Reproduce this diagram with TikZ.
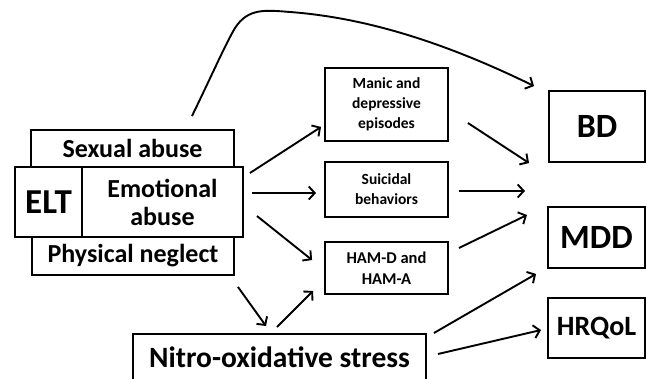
\documentclass[tikz,border=0pt]{standalone}
\usepackage{fontspec}
\setmainfont{Carlito}
\usetikzlibrary{arrows.meta,calc}
\begin{document}
\begin{tikzpicture}[x=1pt,y=-1pt,
  box/.style={draw,line width=1.9pt,inner sep=0pt,align=center,font=\bfseries},
  arr/.style={line width=1.9pt,-{Straight Barb[length=6pt,width=13pt,line width=1.9pt]}},
  fsmall/.style={font=\bfseries\fontsize{15.5}{20}\selectfont},
  fmid/.style={font=\bfseries\fontsize{26}{28}\selectfont},
  fbig/.style={font=\bfseries\fontsize{35}{38}\selectfont}]
\useasboundingbox (0,0) rectangle (647,378);
\clip (0,0) rectangle (647,378);
% left group
\node[box,fmid,minimum width=203,minimum height=37] (sex) at (132.5,148.5) {Sexual abuse};
\node[box,minimum width=228,minimum height=70] (mid) at (129,202) {};
\node[box,fbig,minimum width=67,minimum height=70] (elt) at (48.5,202) {ELT};
\node[fmid,align=center] (emo) at (162.5,202) {Emotional\\abuse};
\node[box,fmid,minimum width=202,minimum height=38] (negl) at (133,256) {Physical neglect};
% middle column
\node[box,fsmall,minimum width=123,minimum height=73] (manic) at (386.5,104.5) {Manic and\\depressive\\episodes};
\node[box,fsmall,minimum width=123,minimum height=55] (suic) at (386.5,189.5) {Suicidal\\behaviors};
\node[box,font=\bfseries\fontsize{16.5}{21}\selectfont,minimum width=123,minimum height=52] (ham) at (386.5,268) {HAM-D and\\HAM-A};
% right column
\node[box,font=\bfseries\fontsize{34}{36}\selectfont,minimum width=96,minimum height=71] (bd) at (597,126.5) {BD};
\node[box,font=\bfseries\fontsize{34}{36}\selectfont,minimum width=97,minimum height=61] (mdd) at (596.5,237.5) {MDD};
\node[box,font=\bfseries\fontsize{28}{30}\selectfont,minimum width=97,minimum height=60] (hrq) at (596.5,328) {HRQoL};
% nitro-oxidative stress
\node[box,font=\bfseries\fontsize{29.5}{32}\selectfont,minimum width=293,text height=34pt,text depth=40pt,anchor=north] (nitro) at (279.5,333) {Nitro-oxidative stress};
% free arrow ends
\coordinate (t1) at (529,163);
\coordinate (t2) at (525,191);
\coordinate (t3) at (527,215);
% curved arrow
\draw[arr] ([shift={(-43,-13)}]sex.north east) .. controls (212,75) and (225,45) .. (235,28)
  .. controls (248,8) and (265,10) .. (290,12)
  .. controls (370,18) and (450,45) .. ([shift={(-14,-4)}]bd.north west);
% arrows from ELT
\draw[arr] ([shift={(6,-29)}]mid.east) -- ([shift={(-3,-15)}]manic.south west);
\draw[arr] ([shift={(8,-9)}]mid.east) -- ([shift={(-8,3.5)}]suic.west);
\draw[arr] ([shift={(13,14)}]mid.east) -- ([shift={(-12,-8)}]ham.west);
\draw[arr] ([shift={(3,11)}]negl.south east) -- ([shift={(-13.5,-7)}]nitro.north);
\draw[arr] ([shift={(-2.5,-6)}]nitro.north) -- ([shift={(-11,-4)}]ham.south west);
% arrows to outcomes
\draw[arr] ([shift={(19,18.5)}]manic.east) -- (t1);
\draw[arr] ([shift={(10,1.5)}]suic.east) -- (t2);
\draw[arr] ([shift={(10,-20)}]ham.east) -- (t3);
\draw[arr] ([shift={(7,0)}]nitro.north east) -- ([shift={(-11,5)}]mdd.south west);
\draw[arr] ([shift={(11,21)}]nitro.north east) -- ([shift={(-6,2)}]hrq.west);
\end{tikzpicture}
\end{document}
